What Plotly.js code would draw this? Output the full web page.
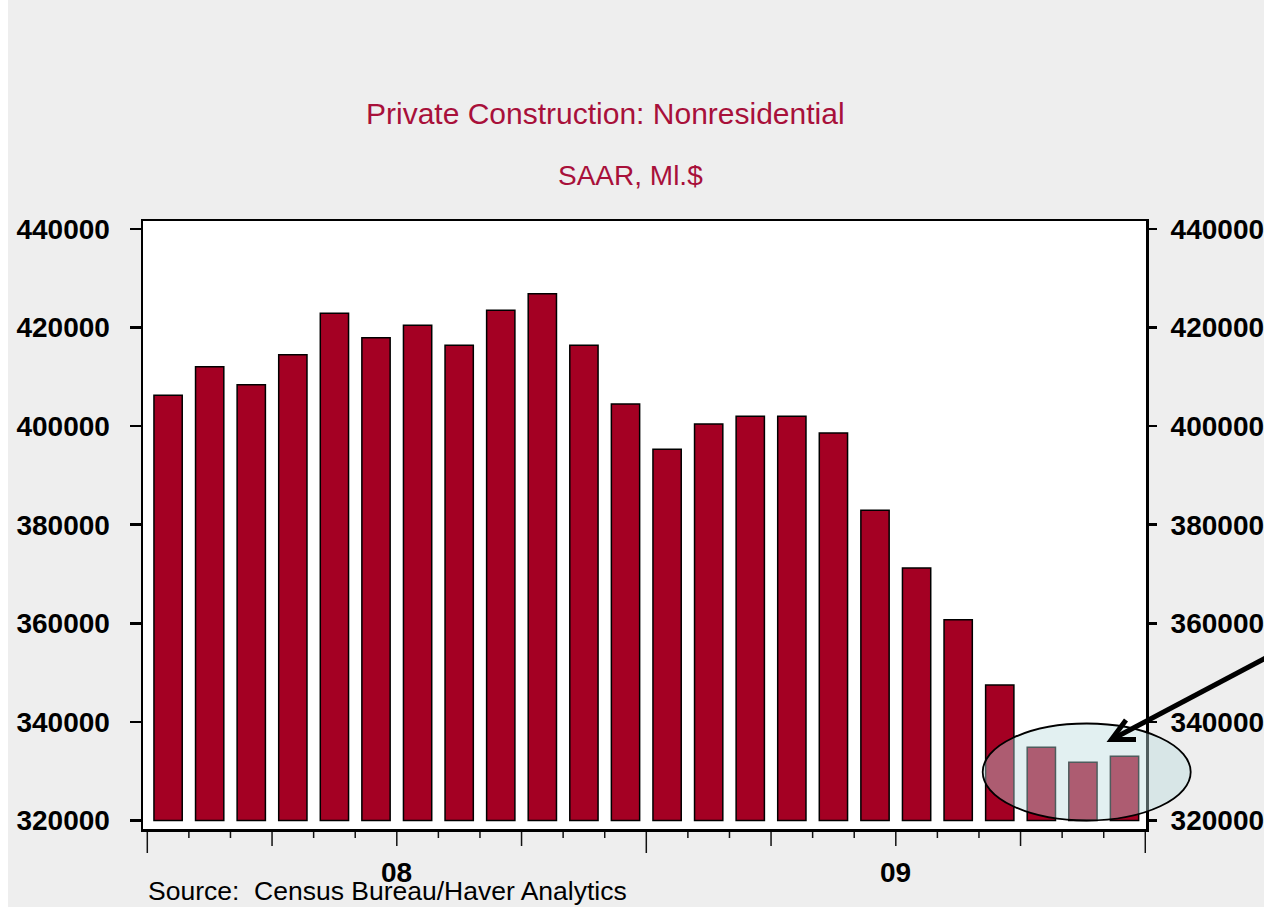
<!DOCTYPE html>
<html>
<head>
<meta charset="utf-8">
<script src="https://cdn.plot.ly/plotly-3.0.1.min.js"></script>
<style>
  html, body { margin: 0; padding: 0; background: #ffffff; }
  #chart { position: absolute; left: 8px; top: 0px; width: 1256px; height: 907px; }
</style>
</head>
<body>
<div id="chart"></div>
<script>
// ---- data ----
const months = ['Jan 2008','Feb 2008','Mar 2008','Apr 2008','May 2008','Jun 2008',
                'Jul 2008','Aug 2008','Sep 2008','Oct 2008','Nov 2008','Dec 2008',
                'Jan 2009','Feb 2009','Mar 2009','Apr 2009','May 2009','Jun 2009',
                'Jul 2009','Aug 2009','Sep 2009','Oct 2009','Nov 2009','Dec 2009'];
const values = [406230, 412030, 408380, 414460, 422860, 417910,
                420430, 416370, 423470, 426830, 416370, 404470,
                395280, 400410, 401970, 401970, 398590, 382920,
                371220, 360730, 347490, 334860, 331820, 333040];
const yearLabels = ['08', '09'];
const yTickVals = [320000, 340000, 360000, 380000, 400000, 420000, 440000];
const baseValue = 320000;
const titleText = 'Private Construction: Nonresidential';
const subtitleText = 'SAAR, Ml.$';
const sourceText = 'Source:  Census Bureau/Haver Analytics';

// ---- geometry helpers (page pixels -> paper coords) ----
const DIV_LEFT = 8;
const M = {l: 135, r: 118, t: 221, b: 78};
const W = 1256, H = 907;
const PW = W - M.l - M.r, PH = H - M.t - M.b;
const PX0 = DIV_LEFT + M.l, PY1 = M.t + PH;
const px2x = px => (px - PX0) / PW;
const py2y = py => (PY1 - py) / PH;

const xIdx = months.map((_, i) => i);
const RED = '#a40023';
const TITLE_RED = '#a8103a';
const FONT = 'Liberation Sans, Arial, Helvetica, sans-serif';

const traces = [
  {
    type: 'bar',
    x: xIdx,
    y: values.map(v => v - baseValue),
    base: baseValue,
    width: 0.68,
    marker: {color: RED, line: {color: '#000000', width: 1.5}},
    hoverinfo: 'skip',
    showlegend: false
  },
  {
    type: 'scatter', mode: 'none',
    x: xIdx, y: values, yaxis: 'y2',
    hoverinfo: 'skip', showlegend: false
  }
];

// month tick marks below the frame
const shapes = [];
for (let i = 0; i <= months.length; i++) {
  let endPx = 838;
  if (i % 12 === 0) endPx = 853;
  else if (i % 3 === 0) endPx = 846;
  shapes.push({
    type: 'line', xref: 'x', yref: 'paper',
    x0: i - 0.5, x1: i - 0.5, y0: py2y(832), y1: py2y(endPx),
    line: {color: '#111111', width: 1.5}
  });
}
// highlight ellipse
shapes.push({
  type: 'circle', xref: 'paper', yref: 'paper', layer: 'above',
  x0: px2x(982.7), x1: px2x(1190.7), y0: py2y(820.5), y1: py2y(723.5),
  fillcolor: 'rgba(185,220,222,0.42)',
  line: {color: '#000000', width: 1.8}
});
// arrow shaft + head
const tip = [1111.5, 739.5];
shapes.push({
  type: 'path', xref: 'paper', yref: 'paper', layer: 'above',
  path: 'M ' + px2x(1275) + ',' + py2y(653) + ' L ' + px2x(tip[0] + 3) + ',' + py2y(tip[1] - 1.5),
  line: {color: '#000000', width: 5}
});
shapes.push({
  type: 'path', xref: 'paper', yref: 'paper', layer: 'above',
  path: 'M ' + px2x(1126) + ',' + py2y(720) + ' L ' + px2x(tip[0]) + ',' + py2y(tip[1]) +
        ' L ' + px2x(1136) + ',' + py2y(739.5),
  line: {color: '#000000', width: 5}
});

const annotations = [
  {text: titleText, xref: 'paper', yref: 'paper', x: px2x(605), y: py2y(113),
   xanchor: 'center', yanchor: 'middle', showarrow: false,
   font: {family: FONT, size: 30, color: TITLE_RED}},
  {text: subtitleText, xref: 'paper', yref: 'paper', x: px2x(630.5), y: py2y(175),
   xanchor: 'center', yanchor: 'middle', showarrow: false,
   font: {family: FONT, size: 28, color: TITLE_RED}},
  {text: sourceText, xref: 'paper', yref: 'paper', x: px2x(146), y: py2y(891),
   xanchor: 'left', yanchor: 'middle', showarrow: false,
   font: {family: FONT, size: 26.5, color: '#000000'}}
];
yearLabels.forEach((lab, yi) => {
  const idx = xIdx.filter(i => i >= yi * 12 && i < (yi + 1) * 12);
  const center = idx.reduce((a, b) => a + b, 0) / idx.length;
  annotations.push({
    text: '<b>' + lab + '</b>', xref: 'x', yref: 'paper', x: center, y: py2y(872),
    xanchor: 'center', yanchor: 'middle', showarrow: false,
    font: {family: FONT, size: 28, color: '#000000'}
  });
});

const yRange = [318300, 441580];
const tickFont = {family: FONT, size: 28, color: '#000000', weight: 'bold'};

const layout = {
  width: W, height: H,
  margin: M,
  paper_bgcolor: '#eeeeee',
  plot_bgcolor: '#ffffff',
  showlegend: false,
  bargap: 0.32,
  xaxis: {
    range: [-0.5 - 4.3 / 41.57, 23.5 + 0.7 / 41.57],
    showline: true, mirror: true, linecolor: '#000000', linewidth: 2.5,
    ticks: '', showticklabels: false, showgrid: false, zeroline: false,
    fixedrange: true
  },
  yaxis: {
    range: yRange,
    tickvals: yTickVals, ticktext: yTickVals.map(String),
    showline: true, mirror: true, linecolor: '#000000', linewidth: 2.5,
    ticks: 'outside', ticklen: 11, tickwidth: 2.5, tickcolor: '#000000',
    tickfont: tickFont, ticklabelstandoff: 14,
    showgrid: false, zeroline: false, fixedrange: true
  },
  yaxis2: {
    range: yRange, overlaying: 'y', side: 'right', anchor: 'x',
    tickvals: yTickVals, ticktext: yTickVals.map(String),
    showline: false,
    ticks: 'outside', ticklen: 10, tickwidth: 2.5, tickcolor: '#000000',
    tickfont: tickFont, ticklabelstandoff: 8,
    showgrid: false, zeroline: false, fixedrange: true
  },
  shapes: shapes,
  annotations: annotations
};

Plotly.newPlot('chart', traces, layout, {staticPlot: true, displayModeBar: false});
</script>
</body>
</html>
